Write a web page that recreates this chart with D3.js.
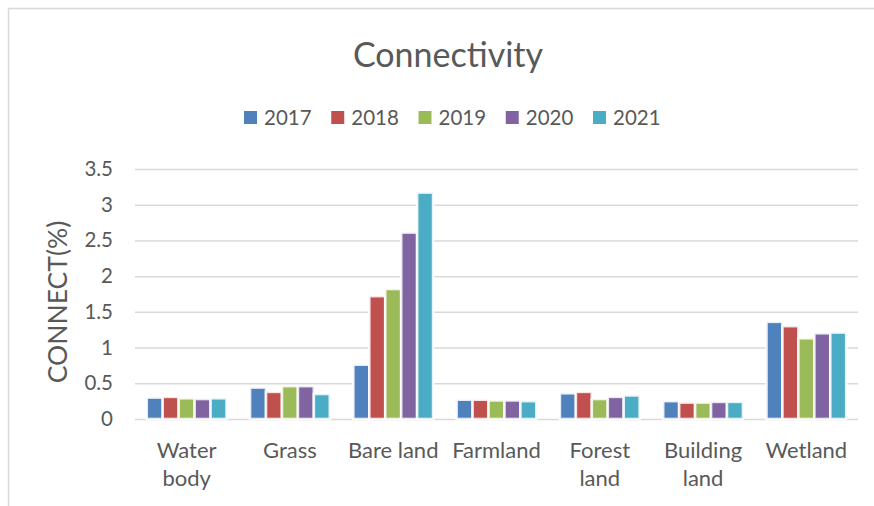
<!DOCTYPE html>
<html>
<head>
<meta charset="utf-8">
<script src="https://cdn.jsdelivr.net/npm/d3@7"></script>
<style>
  html, body { margin: 0; padding: 0; background: #fff; }
  svg { display: block; font-family: Lato, "Open Sans", sans-serif; }
</style>
</head>
<body>
<svg id="chart" width="874" height="506"></svg>
<script>
// Land-use categories (split into display lines) and the survey years
const categories = ["Water body", "Grass", "Bare land", "Farmland", "Forest land", "Building land", "Wetland"];
const categoryLines = [["Water", "body"], ["Grass"], ["Bare land"], ["Farmland"], ["Forest", "land"], ["Building", "land"], ["Wetland"]];
const years = ["2017", "2018", "2019", "2020", "2021"];

// CONNECT (%) per category, one array per year
const v2017 = [0.30, 0.44, 0.76, 0.27, 0.36, 0.25, 1.36];
const v2018 = [0.31, 0.38, 1.72, 0.27, 0.38, 0.23, 1.30];
const v2019 = [0.29, 0.46, 1.82, 0.26, 0.28, 0.23, 1.13];
const v2020 = [0.28, 0.46, 2.61, 0.26, 0.31, 0.24, 1.20];
const v2021 = [0.29, 0.35, 3.17, 0.25, 0.33, 0.24, 1.21];

const yTicks = [0, 0.5, 1, 1.5, 2, 2.5, 3, 3.5];
const colors = ["#4F81BD", "#C0504D", "#9BBB59", "#8064A2", "#4BACC6"];

const series = [v2017, v2018, v2019, v2020, v2021];
const textColor = "#595959";
const gridColor = "#D9D9D9";

const svg = d3.select("#chart");

// chart-area frame
svg.append("rect")
  .attr("x", 8.5).attr("y", 8.5)
  .attr("width", 900).attr("height", 600)
  .attr("fill", "none").attr("stroke", gridColor).attr("stroke-width", 1.5);

const plot = { left: 135, right: 858, top: 169, bottom: 419 };

const x0 = d3.scaleBand().domain(categories).range([plot.left, plot.right]).paddingInner(0.228).paddingOuter(0.114);
const x1 = d3.scaleBand().domain(years).range([0, x0.bandwidth()]);
const y = d3.scaleLinear().domain([0, 3.5]).range([plot.bottom, plot.top]);

// gridlines + y tick labels
const yAxis = d3.axisLeft(y).tickValues(yTicks).tickSize(-(plot.right - plot.left)).tickPadding(22).tickFormat(d3.format("~g"));
const gy = svg.append("g").attr("transform", `translate(${plot.left},0)`).call(yAxis);
gy.select(".domain").remove();
gy.selectAll(".tick line").attr("stroke", gridColor).attr("stroke-width", 1.5);
gy.selectAll(".tick text").attr("fill", textColor).attr("font-size", 20.5).attr("font-family", "Lato, 'Open Sans', sans-serif");

// bars
const groups = svg.append("g").selectAll("g")
  .data(categories)
  .join("g")
  .attr("transform", d => `translate(${x0(d)},0)`);

groups.selectAll("rect")
  .data((c, i) => years.map((yr, k) => ({ yr, k, v: series[k][i] })))
  .join("rect")
  .attr("x", d => x1(d.yr))
  .attr("width", x1.bandwidth())
  .attr("y", d => y(d.v))
  .attr("height", d => y(0) - y(d.v))
  .attr("fill", d => colors[d.k])
  .attr("stroke", "#fff")
  .attr("stroke-opacity", 0.85)
  .attr("stroke-width", 2.6);

// category labels
const xl = svg.append("g");
categories.forEach((c, i) => {
  const t = xl.append("text")
    .attr("x", x0(c) + x0.bandwidth() / 2)
    .attr("y", 458)
    .attr("text-anchor", "middle")
    .attr("fill", textColor)
    .attr("font-size", 22);
  categoryLines[i].forEach((line, j) => {
    t.append("tspan").attr("x", x0(c) + x0.bandwidth() / 2).attr("dy", j === 0 ? 0 : 28).text(line);
  });
});

// y-axis title
svg.append("text")
  .attr("transform", "translate(67,302) rotate(-90)")
  .attr("text-anchor", "middle")
  .attr("fill", textColor)
  .attr("font-size", 26.5)
  .text("CONNECT(%)");

// title
svg.append("text")
  .attr("x", 448).attr("y", 67)
  .attr("text-anchor", "middle")
  .attr("fill", textColor)
  .attr("font-size", 34)
  .text("Connectivity");

// legend
const legendX = d3.scalePoint().domain(years).range([244, 593]);
const lg = svg.append("g").selectAll("g").data(years).join("g")
  .attr("transform", d => `translate(${legendX(d)},0)`);
lg.append("rect").attr("x", 0).attr("y", 111).attr("width", 13).attr("height", 13)
  .attr("fill", (d, i) => colors[i]);
lg.append("text").attr("x", 20).attr("y", 124.5)
  .attr("fill", textColor).attr("font-size", 20.5)
  .text(d => d);
</script>
</body>
</html>
